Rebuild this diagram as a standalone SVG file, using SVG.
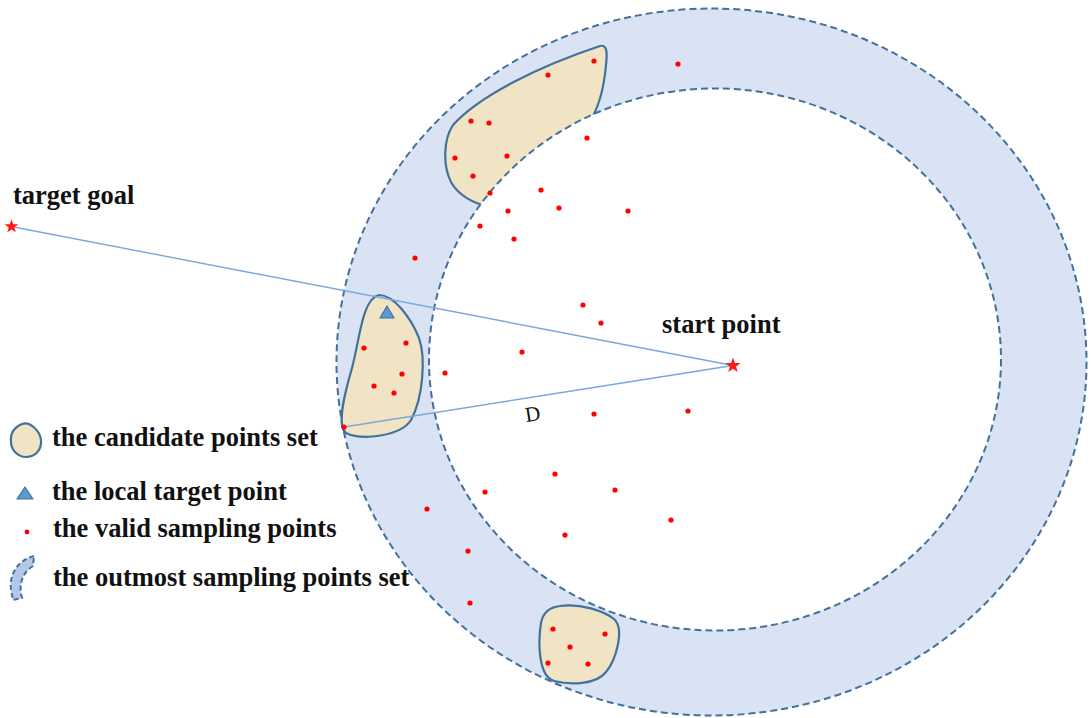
<svg xmlns="http://www.w3.org/2000/svg" xmlns:xlink="http://www.w3.org/1999/xlink" width="1091" height="718" viewBox="0 0 1091 718">
  <style>
    .ring { fill: #dae3f3; stroke: #41719c; stroke-width: 2; stroke-dasharray: 7 4; }
    .hole { fill: #ffffff; stroke: #41719c; stroke-width: 2; stroke-dasharray: 7 4; }
    .cand { fill: #f1e4c4; stroke: #41719c; stroke-width: 2.2; stroke-linejoin: round; }
    .tri { fill: #5b9bd5; stroke: #41719c; stroke-width: 1.2; stroke-linejoin: round; }
    .link { fill: none; stroke: #7ba7dc; stroke-width: 1.4; }
    .pt { fill: #ff0000; }
    .star { fill: #ff1a1a; }
    .lbl { font-family: "Liberation Serif", "Times New Roman", serif; font-weight: bold; font-size: 26.5px; fill: #111111; }
    .dl { font-family: "Liberation Serif", "Times New Roman", serif; font-size: 21px; fill: #111111; }
    .arcicon { fill: #b4c7e7; stroke: #41719c; stroke-width: 2; stroke-dasharray: 5 3; }
  </style>
  <defs>
    <path id="star" d="M0,-8 L1.881,-2.589 L7.608,-2.472 L3.043,0.989 L4.702,6.472 L0,3.2 L-4.702,6.472 L-3.043,0.989 L-7.608,-2.472 L-1.881,-2.589 Z"/>
  </defs>

  <!-- outer sampling ring -->
  <g id="ring-outer">
    <ellipse class="ring" cx="711.5" cy="362" rx="375" ry="353.5"/>
  </g>

  <!-- candidate point sets -->
  <g id="cand-top">
    <path class="cand" d="M600,46 C608,44 607,55 606,65 C604,88 598,110 588,124 L560,158 L488,206 C474,204 458,195 451,182 C443,166 443,140 453,125 C480,95 540,66 600,46 Z"/>
  </g>
  <g id="cand-left">
    <path class="cand" d="M379,295 C394,295 411,318 419,338 C426,358 423,398 411,420 C401,436 362,441 346,433 C336,426 345,392 352,368 C360,338 362,299 379,295 Z"/>
    <polygon class="tri" points="387,306 380,318 394,318"/>
  </g>
  <g id="cand-bottom">
    <path class="cand" d="M560,606 C580,603 604,611 614,619 C625,629 616,660 606,672 C596,685 570,685 554,681 C538,676 538,642 541,623 C543,612 551,607 560,606 Z"/>
  </g>

  <!-- inner free area -->
  <g id="ring-inner">
    <ellipse class="hole" cx="715" cy="359.5" rx="286" ry="271"/>
  </g>

  <!-- connectors -->
  <g id="connectors">
    <line class="link" x1="11" y1="226.5" x2="733" y2="365.5"/>
    <line class="link" x1="344" y1="427" x2="733" y2="365.5"/>
  </g>
  <text class="dl" x="525" y="421" transform="rotate(-9 532 414)">D</text>

  <!-- valid sampling points -->
  <g id="samples">
    <circle class="pt" cx="594" cy="61" r="2.6"/>
    <circle class="pt" cx="548" cy="75" r="2.6"/>
    <circle class="pt" cx="471" cy="121" r="2.6"/>
    <circle class="pt" cx="489" cy="123" r="2.6"/>
    <circle class="pt" cx="455" cy="158" r="2.6"/>
    <circle class="pt" cx="507" cy="156" r="2.6"/>
    <circle class="pt" cx="473" cy="176" r="2.6"/>
    <circle class="pt" cx="490" cy="193" r="2.6"/>
    <circle class="pt" cx="678" cy="64" r="2.6"/>
    <circle class="pt" cx="587" cy="138" r="2.6"/>
    <circle class="pt" cx="541" cy="190" r="2.6"/>
    <circle class="pt" cx="508" cy="211" r="2.6"/>
    <circle class="pt" cx="559" cy="208" r="2.6"/>
    <circle class="pt" cx="628" cy="211" r="2.6"/>
    <circle class="pt" cx="480" cy="226" r="2.6"/>
    <circle class="pt" cx="514" cy="239" r="2.6"/>
    <circle class="pt" cx="415" cy="258" r="2.6"/>
    <circle class="pt" cx="583" cy="305" r="2.6"/>
    <circle class="pt" cx="601" cy="323" r="2.6"/>
    <circle class="pt" cx="522" cy="352" r="2.6"/>
    <circle class="pt" cx="445" cy="373" r="2.6"/>
    <circle class="pt" cx="364" cy="348" r="2.6"/>
    <circle class="pt" cx="406" cy="343" r="2.6"/>
    <circle class="pt" cx="402" cy="374" r="2.6"/>
    <circle class="pt" cx="374" cy="386" r="2.6"/>
    <circle class="pt" cx="394" cy="393" r="2.6"/>
    <circle class="pt" cx="344" cy="427" r="2.6"/>
    <circle class="pt" cx="594" cy="414" r="2.6"/>
    <circle class="pt" cx="688" cy="411" r="2.6"/>
    <circle class="pt" cx="555" cy="474" r="2.6"/>
    <circle class="pt" cx="615" cy="490" r="2.6"/>
    <circle class="pt" cx="485" cy="492" r="2.6"/>
    <circle class="pt" cx="427" cy="509" r="2.6"/>
    <circle class="pt" cx="671" cy="520" r="2.6"/>
    <circle class="pt" cx="565" cy="535" r="2.6"/>
    <circle class="pt" cx="468" cy="551" r="2.6"/>
    <circle class="pt" cx="470" cy="603" r="2.6"/>
    <circle class="pt" cx="553" cy="629" r="2.6"/>
    <circle class="pt" cx="605" cy="634" r="2.6"/>
    <circle class="pt" cx="570" cy="647" r="2.6"/>
    <circle class="pt" cx="548" cy="663" r="2.6"/>
    <circle class="pt" cx="588" cy="664" r="2.6"/>
  </g>

  <!-- start and goal -->
  <g id="start-point">
    <use href="#star" xlink:href="#star" class="star" transform="translate(733,365.5)"/>
    <text class="lbl" x="662" y="333">start point</text>
  </g>
  <g id="target-goal">
    <use href="#star" xlink:href="#star" class="star" transform="translate(11.5,226.5) scale(0.9)"/>
    <text class="lbl" x="13" y="204">target goal</text>
  </g>

  <!-- legend -->
  <g id="legend">
    <g id="legend-candidate">
      <path class="cand" d="M22,424 C30,421 40,431 41,440 C42,450 35,457 26,457 C18,457 11,450 11,442 C10,433 15,427 22,424 Z"/>
      <text class="lbl" x="52" y="446">the candidate points set</text>
    </g>
    <g id="legend-local">
      <polygon class="tri" points="25,487 17,499 33,499"/>
      <text class="lbl" x="52" y="500">the local target point</text>
    </g>
    <g id="legend-valid">
      <circle class="pt" cx="27" cy="532" r="2.4"/>
      <text class="lbl" x="53" y="537">the valid sampling points</text>
    </g>
    <g id="legend-outmost">
      <path class="arcicon" d="M34,556 C18,560 9,574 11,590 L13,600 L22,598 C19,588 20,574 33,566 Z"/>
      <text class="lbl" x="53" y="586">the outmost sampling points set</text>
    </g>
  </g>
</svg>
